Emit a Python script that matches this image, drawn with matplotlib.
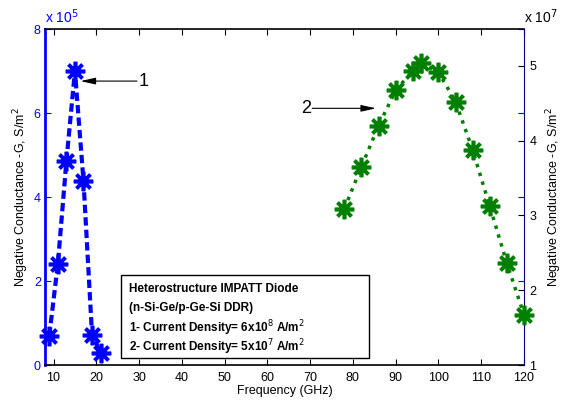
import matplotlib.pyplot as plt
from matplotlib.patches import Rectangle

plt.rcParams['font.family'] = ['Liberation Sans', 'DejaVu Sans']

# curve 1 : J = 6x10^8 A/m^2, conductance in units of 1e5 S/m^2
freq_1 = [9, 11, 13, 15, 17, 19, 21]
g_1 = [0.70, 2.40, 4.85, 7.00, 4.38, 0.72, 0.29]

# curve 2 : J = 5x10^7 A/m^2, conductance in units of 1e7 S/m^2
freq_2 = [78, 82, 86, 90, 94, 96, 100, 104, 108, 112, 116, 120]
g_2 = [3.09, 3.65, 4.20, 4.67, 4.93, 5.03, 4.91, 4.52, 3.87, 3.12, 2.36, 1.67]

x_ticks = [10, 20, 30, 40, 50, 60, 70, 80, 90, 100, 110, 120]
y1_ticks = [0, 2, 4, 6, 8]
y2_ticks = [1, 2, 3, 4, 5]

ylabel = 'Negative Conductance -G, S/m$^2$'
box_lines = ['Heterostructure IMPATT Diode',
             '(n-Si-Ge/p-Ge-Si DDR)',
             '1- Current Density= 6x10$^8$ A/m$^2$',
             '2- Current Density= 5x10$^7$ A/m$^2$']

fig = plt.figure(figsize=(5.69, 4.0), dpi=100)
ax1 = fig.add_axes([45/569, 35/400, 479/569, 336/400])
ax2 = ax1.twinx()

star = (8, 2, 0)
ax1.plot(freq_1, g_1, color='#0000ff', ls='--', lw=3, dashes=(2, 1),
         marker=star, ms=14, mew=2.6, mec='#0000ff', zorder=3, clip_on=False)
ax2.plot(freq_2, g_2, color='#007f00', ls=':', lw=2.5,
         marker=star, ms=14, mew=2.6, mec='#007f00', zorder=3, clip_on=False)

ax1.set_xlim(8, 120)
ax1.set_ylim(0, 8)
ax2.set_ylim(1, 5.49)
ax1.set_xticks(x_ticks)
ax1.set_yticks(y1_ticks)
ax2.set_yticks(y2_ticks)

tick_font = 9
ax1.tick_params(axis='x', direction='in', top=True, length=4, labelsize=tick_font,
                color='black', pad=5)
ax1.tick_params(axis='y', direction='in', right=True, length=4, labelsize=tick_font,
                colors='#0000ff', pad=3)
ax2.tick_params(axis='y', direction='in', length=4, labelsize=tick_font,
                colors='black', pad=4)

ax1.spines['left'].set_color('#0000ff')
ax1.spines['left'].set_linewidth(2)
ax2.spines['left'].set_visible(False)
ax2.spines['right'].set_color('#00007f')
ax1.spines['right'].set_visible(False)
for s in ['top', 'bottom']:
    ax1.spines[s].set_linewidth(1.2)
    ax2.spines[s].set_visible(False)

ax1.set_xlabel('Frequency (GHz)', fontsize=9, labelpad=1)
ax1.set_ylabel(ylabel, fontsize=9, labelpad=2)
ax2.set_ylabel(ylabel, fontsize=9, labelpad=6)

ax1.text(0.0, 1.01, 'x 10$^5$', transform=ax1.transAxes, color='#0000ff',
         fontsize=10, ha='left', va='bottom')
ax2.text(1.0, 1.01, 'x 10$^7$', transform=ax2.transAxes, color='black',
         fontsize=10, ha='left', va='bottom')

arrow = dict(arrowstyle='-|>,head_length=0.9,head_width=0.2', color='black', lw=0.8,
             shrinkA=0, shrinkB=0)
ax1.annotate('', xy=(16.3, 6.76), xytext=(29.5, 6.76), arrowprops=arrow)
ax1.text(29.8, 6.76, '1', fontsize=13, ha='left', va='center')
ax2.annotate('', xy=(85.4, 4.43), xytext=(70.5, 4.43), arrowprops=arrow)
ax2.text(70.2, 4.43, '2', fontsize=13, ha='right', va='center')

# text box
bx0, bx1 = (121 - 45) / 479, (369 - 45) / 479
by0, by1 = (365 - 358) / 336, (365 - 275) / 336
ax2.add_patch(Rectangle((bx0, by0), bx1 - bx0, by1 - by0, transform=ax2.transAxes,
                        facecolor='white', edgecolor='black', lw=1, zorder=5))
line_y = [289, 308, 328, 347]
for txt, yy in zip(box_lines, line_y):
    ax2.text((129 - 45) / 479, (365 - yy) / 336, txt, transform=ax2.transAxes,
             fontsize=8.5, fontweight='bold', ha='left', va='center', zorder=6)

fig.savefig('out.png', dpi=100)
